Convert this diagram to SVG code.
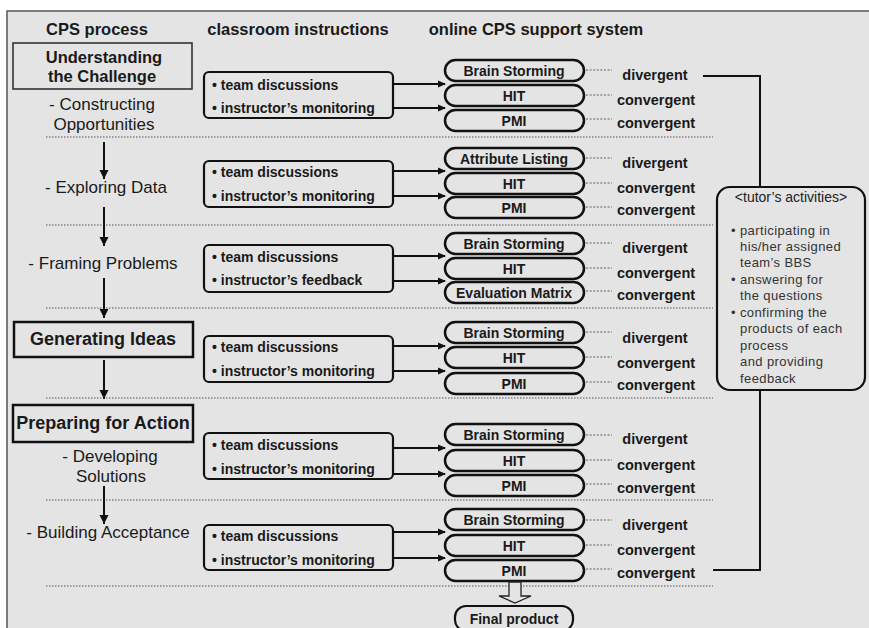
<svg xmlns="http://www.w3.org/2000/svg" width="869" height="628" viewBox="0 0 869 628">
<defs>
<marker id="ah" markerWidth="8" markerHeight="8" refX="7" refY="4" orient="auto" markerUnits="userSpaceOnUse">
<path d="M0,0.5 L8,4 L0,7.5 Z" fill="#111"/>
</marker>
<marker id="ahv" markerWidth="10" markerHeight="10" refX="5" refY="9" orient="0" markerUnits="userSpaceOnUse">
<path d="M0.5,0 L5,9 L9.5,0 Z" fill="#111"/>
</marker>
<style>
text{font-family:"Liberation Sans",Arial,sans-serif;fill:#1a1a1a}
.hd{font-size:16.5px;font-weight:bold;text-anchor:middle}
.stage{font-size:18px;font-weight:bold;text-anchor:middle}
.sub{font-size:17px;text-anchor:middle}
.ci{font-size:14px;font-weight:bold}
.pt{font-size:14px;font-weight:bold;text-anchor:middle}
.lab{font-size:14.5px;font-weight:bold;text-anchor:middle}
.tut{font-size:13px;fill:#333;letter-spacing:0.4px}
.pill{fill:#e4e4e4;stroke:#111;stroke-width:2.5}
.cbox{fill:#e4e4e4;stroke:#111;stroke-width:2.2}
.sep{stroke:#555;stroke-width:1.2;stroke-dasharray:1.5 1.5}
.dot{stroke:#8a8a8a;stroke-width:1.6;stroke-dasharray:2 1.6}
.arr{stroke:#111;stroke-width:2;fill:none}
</style>
</defs>
<rect x="7" y="11" width="870" height="625" fill="#e4e4e4" stroke="#555" stroke-width="1.5"/>

<g id="headers">
<text class="hd" x="97" y="35">CPS process</text>
<text class="hd" x="298" y="35">classroom instructions</text>
<text class="hd" x="536" y="35">online CPS support system</text>
</g>

<g id="separators">
<line class="sep" x1="46" y1="137" x2="713" y2="137"/>
<line class="sep" x1="46" y1="225" x2="713" y2="225"/>
<line class="sep" x1="46" y1="308" x2="713" y2="308"/>
<line class="sep" x1="46" y1="398" x2="713" y2="398"/>
<line class="sep" x1="46" y1="500" x2="713" y2="500"/>
<line class="sep" x1="46" y1="586" x2="713" y2="586"/>
</g>

<g id="cps-process">
<g id="understanding">
<rect x="13" y="43" width="179" height="46" fill="#e4e4e4" stroke="#333" stroke-width="1.6"/>
<text class="stage" style="font-size:16.5px" x="104" y="63">Understanding</text>
<text class="stage" style="font-size:16.5px" x="102" y="82">the Challenge</text>
</g>
<g id="constructing">
<text class="sub" x="102" y="110">- Constructing</text>
<text class="sub" x="104" y="130">Opportunities</text>
</g>
<g id="exploring"><text class="sub" x="106" y="193">- Exploring Data</text></g>
<g id="framing"><text class="sub" x="103" y="269">- Framing Problems</text></g>
<g id="generating">
<rect x="14" y="322" width="179" height="35" fill="#e4e4e4" stroke="#111" stroke-width="2.5"/>
<text class="stage" x="103" y="345">Generating Ideas</text>
</g>
<g id="preparing">
<rect x="13" y="405" width="180" height="37" fill="#e4e4e4" stroke="#111" stroke-width="2.5"/>
<text class="stage" x="103" y="429">Preparing for Action</text>
</g>
<g id="developing">
<text class="sub" x="110" y="462">- Developing</text>
<text class="sub" x="111" y="482">Solutions</text>
</g>
<g id="building"><text class="sub" x="108" y="538">- Building Acceptance</text></g>
</g>

<g id="classroom">
<g id="ci1"><rect class="cbox" x="204" y="72" width="189" height="46" rx="5"/>
<text class="ci" x="212" y="90">• team discussions</text><text class="ci" x="212" y="113">• instructor’s monitoring</text></g>
<g id="ci2"><rect class="cbox" x="204" y="161" width="189" height="46" rx="5"/>
<text class="ci" x="212" y="177">• team discussions</text><text class="ci" x="212" y="201">• instructor’s monitoring</text></g>
<g id="ci3"><rect class="cbox" x="204" y="245" width="189" height="47" rx="5"/>
<text class="ci" x="212" y="262">• team discussions</text><text class="ci" x="212" y="285">• instructor’s feedback</text></g>
<g id="ci4"><rect class="cbox" x="204" y="336" width="189" height="46" rx="5"/>
<text class="ci" x="212" y="352">• team discussions</text><text class="ci" x="212" y="376">• instructor’s monitoring</text></g>
<g id="ci5"><rect class="cbox" x="204" y="433" width="189" height="46" rx="5"/>
<text class="ci" x="212" y="450">• team discussions</text><text class="ci" x="212" y="474">• instructor’s monitoring</text></g>
<g id="ci6"><rect class="cbox" x="204" y="525" width="189" height="45" rx="5"/>
<text class="ci" x="212" y="541">• team discussions</text><text class="ci" x="212" y="565">• instructor’s monitoring</text></g>
</g>

<g id="tools">
<g id="t1">
<rect class="pill" x="445" y="60" width="139" height="21" rx="10.5"/><text class="pt" x="514" y="76">Brain Storming</text>
<rect class="pill" x="445" y="85" width="139" height="21" rx="10.5"/><text class="pt" x="514" y="101">HIT</text>
<rect class="pill" x="445" y="110" width="139" height="21" rx="10.5"/><text class="pt" x="514" y="126">PMI</text>
<text class="lab" x="655" y="80">divergent</text><text class="lab" x="656" y="105">convergent</text><text class="lab" x="656" y="128">convergent</text>
</g>
<g id="t2">
<rect class="pill" x="445" y="148" width="139" height="21" rx="10.5"/><text class="pt" x="514" y="164">Attribute Listing</text>
<rect class="pill" x="445" y="173" width="139" height="21" rx="10.5"/><text class="pt" x="514" y="189">HIT</text>
<rect class="pill" x="445" y="197" width="139" height="21" rx="10.5"/><text class="pt" x="514" y="213">PMI</text>
<text class="lab" x="655" y="168">divergent</text><text class="lab" x="656" y="193">convergent</text><text class="lab" x="656" y="215">convergent</text>
</g>
<g id="t3">
<rect class="pill" x="445" y="233" width="139" height="21" rx="10.5"/><text class="pt" x="514" y="249">Brain Storming</text>
<rect class="pill" x="445" y="258" width="139" height="21" rx="10.5"/><text class="pt" x="514" y="274">HIT</text>
<rect class="pill" x="445" y="282" width="139" height="21" rx="10.5"/><text class="pt" x="514" y="298">Evaluation Matrix</text>
<text class="lab" x="655" y="253">divergent</text><text class="lab" x="656" y="278">convergent</text><text class="lab" x="656" y="300">convergent</text>
</g>
<g id="t4">
<rect class="pill" x="445" y="322" width="139" height="21" rx="10.5"/><text class="pt" x="514" y="338">Brain Storming</text>
<rect class="pill" x="445" y="347" width="139" height="21" rx="10.5"/><text class="pt" x="514" y="363">HIT</text>
<rect class="pill" x="445" y="373" width="139" height="21" rx="10.5"/><text class="pt" x="514" y="389">PMI</text>
<text class="lab" x="655" y="343">divergent</text><text class="lab" x="656" y="368">convergent</text><text class="lab" x="656" y="390">convergent</text>
</g>
<g id="t5">
<rect class="pill" x="445" y="424" width="139" height="21" rx="10.5"/><text class="pt" x="514" y="440">Brain Storming</text>
<rect class="pill" x="445" y="450" width="139" height="21" rx="10.5"/><text class="pt" x="514" y="466">HIT</text>
<rect class="pill" x="445" y="475" width="139" height="21" rx="10.5"/><text class="pt" x="514" y="491">PMI</text>
<text class="lab" x="655" y="444">divergent</text><text class="lab" x="656" y="470">convergent</text><text class="lab" x="656" y="493">convergent</text>
</g>
<g id="t6">
<rect class="pill" x="445" y="509" width="139" height="21" rx="10.5"/><text class="pt" x="514" y="525">Brain Storming</text>
<rect class="pill" x="445" y="535" width="139" height="21" rx="10.5"/><text class="pt" x="514" y="551">HIT</text>
<rect class="pill" x="445" y="560" width="139" height="21" rx="10.5"/><text class="pt" x="514" y="576">PMI</text>
<text class="lab" x="655" y="530">divergent</text><text class="lab" x="656" y="555">convergent</text><text class="lab" x="656" y="578">convergent</text>
</g>
</g>

<g id="tutor">
<rect x="717" y="187" width="148" height="203" rx="13" fill="#e4e4e4" stroke="#111" stroke-width="2.2"/>
<text x="791" y="202" style="font-size:14px;fill:#222;text-anchor:middle">&lt;tutor’s activities&gt;</text>
<text class="tut" x="731" y="235">• participating  in</text>
<text class="tut" x="740" y="251">his/her assigned</text>
<text class="tut" x="740" y="267">team’s BBS</text>
<text class="tut" x="731" y="284">• answering  for</text>
<text class="tut" x="740" y="300">the questions</text>
<text class="tut" x="731" y="317">• confirming  the</text>
<text class="tut" x="740" y="333">products  of each</text>
<text class="tut" x="740" y="350">process</text>
<text class="tut" x="740" y="366">and providing</text>
<text class="tut" x="740" y="383">feedback</text>
</g>

<g id="final-product">
<rect x="455" y="606" width="118" height="25" rx="11" class="pill" style="stroke-width:2.2"/>
<text class="pt" x="514" y="624">Final product</text>
</g>

<g id="connectors">
<line class="arr" x1="104" y1="142" x2="104" y2="179" marker-end="url(#ahv)"/>
<line class="arr" x1="104" y1="207" x2="104" y2="246" marker-end="url(#ahv)"/>
<line class="arr" x1="104" y1="278" x2="104" y2="318" marker-end="url(#ahv)"/>
<line class="arr" x1="104" y1="360" x2="104" y2="399" marker-end="url(#ahv)"/>
<line class="arr" x1="104" y1="486" x2="104" y2="524" marker-end="url(#ahv)"/>

<line class="arr" x1="393" y1="84" x2="445" y2="84" marker-end="url(#ah)"/>
<line class="arr" x1="393" y1="108" x2="445" y2="108" marker-end="url(#ah)"/>
<line class="arr" x1="393" y1="171" x2="445" y2="171" marker-end="url(#ah)"/>
<line class="arr" x1="393" y1="196" x2="445" y2="196" marker-end="url(#ah)"/>
<line class="arr" x1="393" y1="256" x2="445" y2="256" marker-end="url(#ah)"/>
<line class="arr" x1="393" y1="281" x2="445" y2="281" marker-end="url(#ah)"/>
<line class="arr" x1="393" y1="346" x2="445" y2="346" marker-end="url(#ah)"/>
<line class="arr" x1="393" y1="371" x2="445" y2="371" marker-end="url(#ah)"/>
<line class="arr" x1="393" y1="448" x2="445" y2="448" marker-end="url(#ah)"/>
<line class="arr" x1="393" y1="474" x2="445" y2="474" marker-end="url(#ah)"/>
<line class="arr" x1="393" y1="532" x2="445" y2="532" marker-end="url(#ah)"/>
<line class="arr" x1="393" y1="558" x2="445" y2="558" marker-end="url(#ah)"/>

<g id="dotted-links">
<line class="dot" x1="586" y1="70" x2="612" y2="70"/>
<line class="dot" x1="586" y1="95" x2="612" y2="95"/>
<line class="dot" x1="586" y1="119" x2="612" y2="119"/>
<line class="dot" x1="586" y1="158" x2="612" y2="158"/>
<line class="dot" x1="586" y1="183" x2="612" y2="183"/>
<line class="dot" x1="586" y1="207" x2="612" y2="207"/>
<line class="dot" x1="586" y1="243" x2="612" y2="243"/>
<line class="dot" x1="586" y1="268" x2="612" y2="268"/>
<line class="dot" x1="586" y1="291" x2="612" y2="291"/>
<line class="dot" x1="586" y1="332" x2="612" y2="332"/>
<line class="dot" x1="586" y1="357" x2="612" y2="357"/>
<line class="dot" x1="586" y1="382" x2="612" y2="382"/>
<line class="dot" x1="586" y1="435" x2="612" y2="435"/>
<line class="dot" x1="586" y1="460" x2="612" y2="460"/>
<line class="dot" x1="586" y1="484" x2="612" y2="484"/>
<line class="dot" x1="586" y1="520" x2="612" y2="520"/>
<line class="dot" x1="586" y1="545" x2="612" y2="545"/>
<line class="dot" x1="586" y1="569" x2="612" y2="569"/>
</g>

<polyline class="arr" points="703,76 760,76 760,187"/>
<polyline class="arr" points="760,390 760,570 713,570"/>

<path d="M509,582 L521,582 L521,596 L531,596 L515,603 L499,596 L509,596 Z" fill="#e4e4e4" stroke="#222" stroke-width="1.3"/>
</g>
</svg>
